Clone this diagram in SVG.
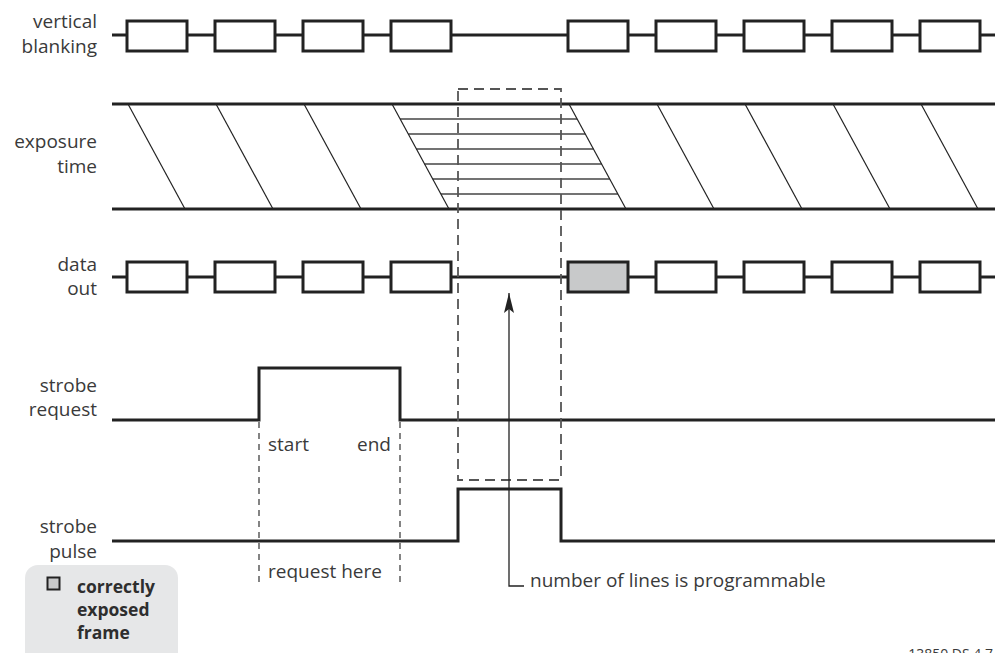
<svg xmlns="http://www.w3.org/2000/svg" width="1000" height="653" viewBox="0 0 1000 653">
  <style>
    .lbl { font-family: "Open Sans", "Noto Sans", sans-serif; font-size: 19px; fill: #3a3a3a; }
    .r { text-anchor: end; }
    .bold { font-weight: bold; font-size: 17.5px; fill: #2e2e2e; }
    .sig { fill: none; stroke: #222; stroke-width: 3; stroke-linejoin: miter; }
    .box { fill: #fff; stroke: #222; stroke-width: 3; }
    .shaded { fill: #c8c9ca; }
    .diag { stroke: #222; stroke-width: 1.2; fill: none; }
    .hatch { stroke: #444; stroke-width: 1.4; }
    .dash { fill: none; stroke: #555; stroke-width: 1.8; stroke-dasharray: 10 6; }
    .tick { stroke: #333; stroke-width: 1.2; stroke-dasharray: 6 5; }
    .lead { fill: none; stroke: #222; stroke-width: 1.3; }
  </style>
  <defs>
    <marker id="arrowhead" viewBox="0 0 20 10" refX="20" refY="5" markerWidth="20" markerHeight="10" markerUnits="userSpaceOnUse" orient="auto">
      <path d="M20 5 L0 0 L4 5 L0 10 Z" fill="#222"/>
    </marker>
  </defs>

  <rect width="1000" height="653" fill="#fff"/>

  <!-- vertical blanking -->
  <g id="vertical-blanking">
    <text class="lbl r" x="97" y="28">vertical</text>
    <text class="lbl r" x="97" y="53">blanking</text>
    <line class="sig" x1="112" y1="35" x2="995" y2="35"/>
    <rect class="box" x="127" y="21" width="60" height="30"/>
    <rect class="box" x="215" y="21" width="60" height="30"/>
    <rect class="box" x="303" y="21" width="60" height="30"/>
    <rect class="box" x="391" y="21" width="60" height="30"/>
    <rect class="box" x="568" y="21" width="60" height="30"/>
    <rect class="box" x="656" y="21" width="60" height="30"/>
    <rect class="box" x="744" y="21" width="60" height="30"/>
    <rect class="box" x="832" y="21" width="60" height="30"/>
    <rect class="box" x="920" y="21" width="60" height="30"/>
  </g>

  <!-- exposure time -->
  <g id="exposure-time">
    <text class="lbl r" x="97" y="148">exposure</text>
    <text class="lbl r" x="97" y="173">time</text>
    <g class="hatch">
      <line x1="400.1" y1="119" x2="577.1" y2="119"/>
      <line x1="408.3" y1="134" x2="585.3" y2="134"/>
      <line x1="416.4" y1="149" x2="593.4" y2="149"/>
      <line x1="424.6" y1="164" x2="601.6" y2="164"/>
      <line x1="432.7" y1="179" x2="609.7" y2="179"/>
      <line x1="440.9" y1="194" x2="617.9" y2="194"/>
    </g>
    <g class="diag">
      <line x1="128" y1="104" x2="185" y2="209"/>
      <line x1="216" y1="104" x2="273" y2="209"/>
      <line x1="304" y1="104" x2="361" y2="209"/>
      <line x1="392" y1="104" x2="449" y2="209"/>
      <line x1="569" y1="104" x2="626" y2="209"/>
      <line x1="657" y1="104" x2="714" y2="209"/>
      <line x1="745" y1="104" x2="802" y2="209"/>
      <line x1="833" y1="104" x2="890" y2="209"/>
      <line x1="921" y1="104" x2="978" y2="209"/>
    </g>
    <line class="sig" x1="112" y1="104" x2="995" y2="104"/>
    <line class="sig" x1="112" y1="209" x2="995" y2="209"/>
  </g>

  <!-- data out -->
  <g id="data-out">
    <text class="lbl r" x="97" y="271">data</text>
    <text class="lbl r" x="97" y="295">out</text>
    <line class="sig" x1="112" y1="277" x2="995" y2="277"/>
    <rect class="box" x="127" y="262" width="60" height="30"/>
    <rect class="box" x="215" y="262" width="60" height="30"/>
    <rect class="box" x="303" y="262" width="60" height="30"/>
    <rect class="box" x="391" y="262" width="60" height="30"/>
    <rect class="box shaded" x="568" y="262" width="60" height="30"/>
    <rect class="box" x="656" y="262" width="60" height="30"/>
    <rect class="box" x="744" y="262" width="60" height="30"/>
    <rect class="box" x="832" y="262" width="60" height="30"/>
    <rect class="box" x="920" y="262" width="60" height="30"/>
  </g>

  <!-- strobe request -->
  <g id="strobe-request">
    <text class="lbl r" x="97" y="392">strobe</text>
    <text class="lbl r" x="97" y="416">request</text>
    <polyline class="sig" points="112,420 259,420 259,368 400,368 400,420 995,420"/>
    <text class="lbl" x="268" y="451">start</text>
    <text class="lbl r" x="391" y="451">end</text>
    <text class="lbl" x="268" y="578">request here</text>
  </g>

  <!-- strobe pulse -->
  <g id="strobe-pulse">
    <text class="lbl r" x="97" y="533">strobe</text>
    <text class="lbl r" x="97" y="558">pulse</text>
    <polyline class="sig" points="112,541 458,541 458,489 561,489 561,541 995,541"/>
  </g>

  <!-- guides, window and callout -->
  <g id="connectors">
    <rect class="dash" x="458" y="89" width="103" height="391"/>
    <line class="tick" x1="259" y1="422" x2="259" y2="582"/>
    <line class="tick" x1="400" y1="422" x2="400" y2="582"/>
    <polyline class="lead" points="524,586 509,586 509,293" marker-end="url(#arrowhead)"/>
  </g>
  <text class="lbl" x="530" y="587">number of lines is programmable</text>

  <!-- legend -->
  <g id="legend">
    <rect x="25" y="565" width="153" height="110" rx="13" fill="#e6e7e8"/>
    <rect x="47.5" y="577.5" width="12" height="12" fill="#c8c9ca" stroke="#222" stroke-width="2"/>
    <text class="lbl bold" x="77" y="593">correctly</text>
    <text class="lbl bold" x="77" y="616">exposed</text>
    <text class="lbl bold" x="77" y="639">frame</text>
  </g>

  <text class="lbl r" x="993" y="659" style="font-size:14px">13850 DS 4.7</text>
</svg>
